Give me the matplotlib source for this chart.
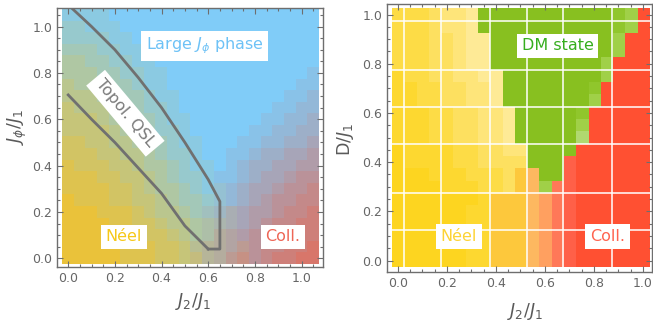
import numpy as np
import matplotlib.pyplot as plt
from matplotlib.colors import to_rgb
from matplotlib.ticker import MultipleLocator

# ---------------- left panel: J_phi/J_1 vs J_2/J_1 (22 x 22 cells, step 0.05)
j2_left = [0.0, 1.05]          # first / last cell centre (x)
jphi_left = [0.0, 1.05]        # first / last cell centre (y)
# weight of Neel order (0..9 -> 0..1), rows from top (1.05) to bottom (0.0)
neel_w = [
    "1111000000000000000000",
    "2211100000000000000000",
    "2222110000000000000000",
    "3332211000000000000000",
    "4433221100000000000000",
    "4443322110000000000000",
    "5444332110000000000000",
    "5554433211000000000000",
    "6555443221000000000000",
    "6665443321100000000000",
    "6666544322100000000000",
    "7766554332110000000000",
    "7776655432210000000000",
    "8777665443211000000000",
    "8887766543221000000000",
    "8888776544321100000000",
    "9888776654332100000000",
    "9998887655432110000000",
    "9999887765543210000000",
    "9999888776543210000000",
    "9999988877643211000000",
    "9999988877653211000000",
]
# weight of collinear order
coll_w = [
    "0000000000000000000000",
    "0000000000000000000000",
    "0000000000000000000000",
    "0000000000000000000000",
    "0000000000000000000000",
    "0000000000000000000001",
    "0000000000000000000011",
    "0000000000000000000112",
    "0000000000000000001122",
    "0000000000000000011223",
    "0000000000000000112233",
    "0000000000000001122334",
    "0000000000000011233445",
    "0000000000000012334455",
    "0000000000000112344566",
    "0000000000000123445667",
    "0000000000000123456677",
    "0000000000001234556778",
    "0000000000001234567788",
    "0000000000001345667888",
    "0000000000012345677889",
    "0000000000012356678899",
]
# phase boundaries of the topological QSL
outer_x = [0.02, 0.1, 0.2, 0.3, 0.4, 0.5, 0.6, 0.65, 0.65, 0.6]
outer_y = [1.075, 1.0, 0.9, 0.78, 0.65, 0.5, 0.34, 0.245, 0.04, 0.04]
inner_x = [0.6, 0.5, 0.4, 0.3, 0.2, 0.1, 0.0]
inner_y = [0.04, 0.14, 0.28, 0.39, 0.5, 0.6, 0.705]

# ---------------- right panel: D/J_1 vs J_2/J_1 (21 x 21 cells, step 0.05)
j2_right = [0.0, 1.0]
d_right = [0.0, 1.0]
palette = {
    'a': '#FDD520', 'b': '#FDD830', 'c': '#FDDC46', 'd': '#FDE060',
    'e': '#FEE57A', 'f': '#FEEA96', 'o': '#FDC83C', 'p': '#FDB860',
    'q': '#FFA060', 's': '#FF7858', 't': '#FF6048', 'r': '#FF5032',
    'g': '#88C020', 'h': '#90C62C', 'i': '#A0D048', 'j': '#B0D870',
}
# rows from top (D=1.0) to bottom (D=0.0), 21 cells each
phase_map = [
    "cccdeef" + "g" * 11 + "hir",
    "cccdeef" + "g" * 11 + "hir",
    "cccddeff" + "g" * 10 + "irr",
    "cccddeff" + "g" * 10 + "irr",
    "cccddeff" + "g" * 9 + "irrr",
    "bccddeeff" + "g" * 8 + "irrr",
    "bbccddeef" + "g" * 7 + "hrrrr",
    "bbccddeef" + "g" * 7 + "irrrr",
    "bbbccddeef" + "g" * 5 + "hrrrrr",
    "bbbccddeef" + "g" * 5 + "irrrrr",
    "bbbccddeef" + "g" * 5 + "jrrrrr",
    "abbbbccddee" + "g" * 4 + "rrrrrr",
    "abbbbccdddd" + "g" * 3 + "trrrrrr",
    "aaabbbcccd" + "op" + "gg" + "trrrrrr",
    "aaaabbbccd" + "op" + "is" + "trrrrrr",
    "aaaaaaab" + "ooo" + "pqs" + "trrrrrr",
    "aaaaaabb" + "ooo" + "pqs" + "trrrrrr",
    "aaaaaabb" + "ooo" + "pqs" + "trrrrrr",
    "aaaaaabb" + "ooo" + "pqs" + "trrrrrr",
    "aaaaaabb" + "ooo" + "pqs" + "trrrrrr",
    "aaaaaabb" + "ooo" + "pqs" + "trrrrrr",
]

plt.rcParams['font.family'] = 'DejaVu Sans'
plt.rcParams['mathtext.fontset'] = 'dejavusans'
frame_c = '#6E6E6E'
text_c = '#666666'

fig = plt.figure(figsize=(6.53, 3.22), dpi=100)
ax1 = fig.add_axes([0.0873, 0.1708, 0.4074, 0.8043])
ax2 = fig.add_axes([0.5926, 0.1562, 0.4066, 0.8314])

# build left image
cy, cb, cr = np.array(to_rgb('#EAC23A')), np.array(to_rgb('#80CCF8')), np.array(to_rgb('#D8766A'))
img1 = np.zeros((len(neel_w), len(neel_w[0]), 3))
for r, (ns, cs) in enumerate(zip(neel_w, coll_w)):
    for c, (a, b) in enumerate(zip(ns, cs)):
        n, k = int(a) / 9, int(b) / 9
        img1[r, c] = n * cy + k * cr + (1 - n - k) * cb
h = 0.025
ax1.imshow(img1, origin='upper', interpolation='nearest', aspect='auto',
           extent=(j2_left[0] - h, j2_left[1] + h, jphi_left[0] - h, jphi_left[1] + h))
ax1.plot(outer_x, outer_y, color='#707070', lw=2, solid_joinstyle='round')
ax1.plot(inner_x, inner_y, color='#707070', lw=2, solid_joinstyle='round')
ax1.set_xlim(-0.048, 1.092)
ax1.set_ylim(-0.0375, 1.080)

box = dict(boxstyle='square,pad=0.3', fc='white', ec='none')
ax1.text(0.585, 0.916, r'Large $J_\phi$ phase', color='#6EC2F6', fontsize=11.5,
         ha='center', va='center', bbox=box)
ax1.text(0.245, 0.626, 'Topol. QSL', color='#7A7A7A', fontsize=11.5, rotation=-50,
         ha='center', va='center', rotation_mode='anchor', bbox=box)
ax1.text(0.239, 0.092, 'Néel', color='#F6C818', fontsize=11.5, ha='center', va='center', bbox=box)
ax1.text(0.92, 0.092, 'Coll.', color='#EE6656', fontsize=11.5, ha='center', va='center', bbox=box)

# build right image
img2 = np.array([[to_rgb(palette[ch]) for ch in row] for row in phase_map])
ax2.imshow(img2, origin='upper', interpolation='nearest', aspect='auto',
           extent=(j2_right[0] - h, j2_right[1] + h, d_right[0] - h, d_right[1] + h))
for gx in [0.025, 0.175, 0.375, 0.525, 0.675, 0.875]:
    ax2.axvline(gx, color='white', lw=1.1)
for gy in [0.125, 0.275, 0.475, 0.625, 0.775, 0.975]:
    ax2.axhline(gy, color='white', lw=1.1)
ax2.set_xlim(-0.045, 1.039)
ax2.set_ylim(-0.0455, 1.043)
ax2.text(0.651, 0.873, 'DM state', color='#36AE1E', fontsize=11.5, ha='center', va='center', bbox=box)
ax2.text(0.248, 0.097, 'Néel', color='#FDD335', fontsize=11.5, ha='center', va='center', bbox=box)
ax2.text(0.855, 0.097, 'Coll.', color='#FF6450', fontsize=11.5, ha='center', va='center', bbox=box)

for ax in (ax1, ax2):
    ax.xaxis.set_major_locator(MultipleLocator(0.2))
    ax.yaxis.set_major_locator(MultipleLocator(0.2))
    ax.xaxis.set_minor_locator(MultipleLocator(0.05))
    ax.yaxis.set_minor_locator(MultipleLocator(0.05))
    ax.tick_params(which='both', direction='in', top=True, right=True, color=frame_c,
                   labelcolor=text_c, labelsize=9, width=0.8)
    ax.tick_params(which='major', length=4)
    ax.tick_params(which='minor', length=2)
    ax.xaxis.set_major_formatter(plt.FormatStrFormatter('%.1f'))
    ax.yaxis.set_major_formatter(plt.FormatStrFormatter('%.1f'))
    for s in ax.spines.values():
        s.set_color(frame_c)
        s.set_linewidth(1)

fig.text(193 / 653, 1 - 302 / 322, r'$J_2/J_1$', color='#5A5A5A', fontsize=12.5, ha='center', va='center')
fig.text(17 / 653, 1 - 127 / 322, r'$J_\phi/J_1$', color='#5A5A5A', fontsize=12.5, ha='center',
         va='center', rotation=90)
fig.text(525 / 653, 1 - 311 / 322, r'$J_2/J_1$', color='#5A5A5A', fontsize=12.5, ha='center', va='center')
fig.text(345 / 653, 1 - 140 / 322, r'$\mathrm{D}/J_1$', color='#5A5A5A', fontsize=12.5, ha='center',
         va='center', rotation=90)

fig.savefig('out.png', dpi=100)
